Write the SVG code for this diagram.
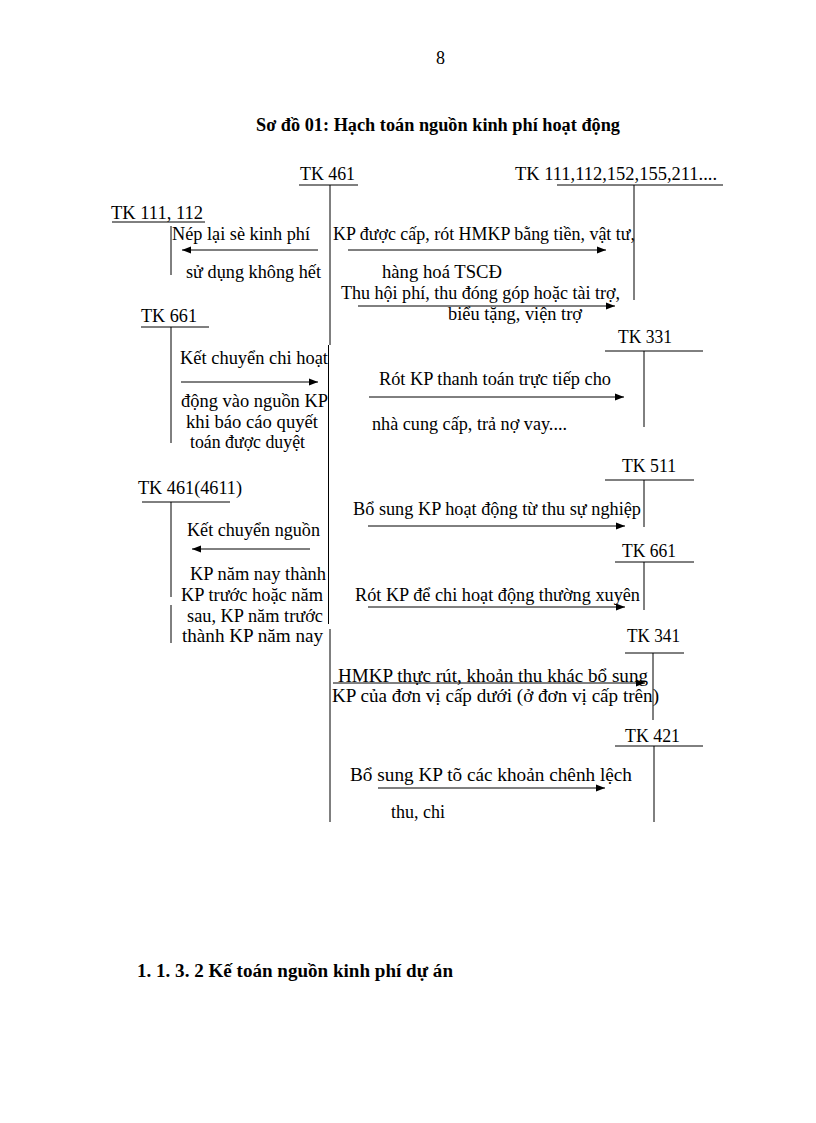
<svg xmlns="http://www.w3.org/2000/svg" width="816" height="1123" viewBox="0 0 816 1123">
<defs>
<marker id="ah" markerWidth="10" markerHeight="8" refX="9" refY="4" orient="auto" markerUnits="userSpaceOnUse">
<path d="M0,0.5 L9,4 L0,7.5 Z" fill="#000"/>
</marker>
<style>
text{font-family:"Liberation Serif","Times New Roman",serif;font-size:18px;fill:#000}
.b{font-weight:bold}
.ln{stroke:#000;stroke-width:1;fill:none}
.ar{stroke:#000;stroke-width:1;fill:none;marker-end:url(#ah)}
</style>
</defs>
<rect width="816" height="1123" fill="#fff"/>
<text x="436" y="64">8</text>
<text class="b" x="256" y="131" textLength="364" lengthAdjust="spacingAndGlyphs">Sơ đồ 01: Hạch toán nguồn kinh phí hoạt động</text>

<g id="tk461">
<text x="300" y="180" textLength="55" lengthAdjust="spacingAndGlyphs">TK 461</text>
<line class="ln" x1="299" y1="185" x2="358" y2="185"/>
<line class="ln" x1="330" y1="185" x2="330" y2="345"/>
<line class="ln" x1="328.5" y1="345" x2="328.5" y2="624"/>
<line class="ln" x1="330" y1="629" x2="330" y2="822"/>
</g>

<g id="tk111_211">
<text x="515" y="180" textLength="202" lengthAdjust="spacingAndGlyphs">TK 111,112,152,155,211....</text>
<line class="ln" x1="557" y1="185" x2="723" y2="185"/>
<line class="ln" x1="634" y1="185" x2="634" y2="300"/>
</g>

<g id="tk111_112">
<text x="111" y="219" textLength="92" lengthAdjust="spacingAndGlyphs">TK 111, 112</text>
<line class="ln" x1="112" y1="222" x2="205" y2="222"/>
<line class="ln" x1="171" y1="226" x2="171" y2="275"/>
</g>

<g id="tk661_left">
<text x="141" y="322" textLength="56" lengthAdjust="spacingAndGlyphs">TK 661</text>
<line class="ln" x1="141" y1="327" x2="209" y2="327"/>
<line class="ln" x1="171" y1="327" x2="171" y2="443"/>
</g>

<g id="tk331">
<text x="618" y="343" textLength="54" lengthAdjust="spacingAndGlyphs">TK 331</text>
<line class="ln" x1="605" y1="351" x2="703" y2="351"/>
<line class="ln" x1="644" y1="351" x2="644" y2="427"/>
</g>

<g id="tk511">
<text x="622" y="472" textLength="54" lengthAdjust="spacingAndGlyphs">TK 511</text>
<line class="ln" x1="605" y1="480" x2="694" y2="480"/>
<line class="ln" x1="644" y1="480" x2="644" y2="527"/>
</g>

<g id="tk4611">
<text x="138" y="494" textLength="104" lengthAdjust="spacingAndGlyphs">TK 461(4611)</text>
<line class="ln" x1="142" y1="502" x2="230" y2="502"/>
<line class="ln" x1="171" y1="502" x2="171" y2="597"/>
<line class="ln" x1="171" y1="605" x2="171" y2="643"/>
</g>

<g id="tk661_right">
<text x="622" y="557" textLength="54" lengthAdjust="spacingAndGlyphs">TK 661</text>
<line class="ln" x1="615" y1="562" x2="694" y2="562"/>
<line class="ln" x1="644" y1="562" x2="644" y2="610"/>
</g>

<g id="tk341">
<text x="627" y="642" textLength="53" lengthAdjust="spacingAndGlyphs">TK 341</text>
<line class="ln" x1="625" y1="653" x2="684" y2="653"/>
<line class="ln" x1="653" y1="653" x2="653" y2="720"/>
</g>

<g id="tk421">
<text x="625" y="742" textLength="55" lengthAdjust="spacingAndGlyphs">TK 421</text>
<line class="ln" x1="615" y1="746" x2="703" y2="746"/>
<line class="ln" x1="654" y1="746" x2="654" y2="822"/>
</g>

<g id="labels">
<text x="172" y="240" textLength="138" lengthAdjust="spacingAndGlyphs">Nép lại sè kinh phí</text>
<text x="186" y="278" textLength="135" lengthAdjust="spacingAndGlyphs">sử dụng không hết</text>
<text x="333" y="240" textLength="302" lengthAdjust="spacingAndGlyphs">KP được cấp, rót HMKP bằng tiền, vật tư,</text>
<text x="382" y="278" textLength="120" lengthAdjust="spacingAndGlyphs">hàng hoá TSCĐ</text>
<text x="341" y="299" textLength="279" lengthAdjust="spacingAndGlyphs">Thu hội phí, thu đóng góp hoặc tài trợ,</text>
<text x="448" y="320" textLength="134" lengthAdjust="spacingAndGlyphs">biểu tặng, viện trợ</text>
<text x="180" y="364" textLength="148" lengthAdjust="spacingAndGlyphs">Kết chuyển chi hoạt</text>
<text x="181" y="407" textLength="147" lengthAdjust="spacingAndGlyphs">động vào nguồn KP</text>
<text x="186" y="428" textLength="132" lengthAdjust="spacingAndGlyphs">khi báo cáo quyết</text>
<text x="190" y="448" textLength="115" lengthAdjust="spacingAndGlyphs">toán được duyệt</text>
<text x="379" y="385" textLength="232" lengthAdjust="spacingAndGlyphs">Rót KP thanh toán trực tiếp cho</text>
<text x="372" y="430" textLength="195" lengthAdjust="spacingAndGlyphs">nhà cung cấp, trả nợ vay....</text>
<text x="353" y="515" textLength="288" lengthAdjust="spacingAndGlyphs">Bổ sung KP hoạt động từ thu sự nghiệp</text>
<text x="187" y="536" textLength="133" lengthAdjust="spacingAndGlyphs">Kết chuyển nguồn</text>
<text x="190" y="580" textLength="136" lengthAdjust="spacingAndGlyphs">KP năm nay thành</text>
<text x="181" y="601" textLength="142" lengthAdjust="spacingAndGlyphs">KP trước hoặc năm</text>
<text x="355" y="601" textLength="285" lengthAdjust="spacingAndGlyphs">Rót KP để chi hoạt động thường xuyên</text>
<text x="187" y="622" textLength="136" lengthAdjust="spacingAndGlyphs">sau, KP năm trước</text>
<text x="182" y="642" textLength="141" lengthAdjust="spacingAndGlyphs">thành KP năm nay</text>
<text x="338" y="682" textLength="310" lengthAdjust="spacingAndGlyphs">HMKP thực rút, khoản thu khác bổ sung</text>
<text x="332" y="702" textLength="327" lengthAdjust="spacingAndGlyphs">KP của đơn vị  cấp dưới (ở đơn vị  cấp trên)</text>
<text x="350" y="781" textLength="282" lengthAdjust="spacingAndGlyphs">Bổ sung KP tõ các khoản  chênh lệch</text>
<text x="391" y="818">thu, chi</text>
</g>

<g id="connectors">
<line class="ar" x1="318" y1="250" x2="182" y2="250"/>
<line class="ar" x1="348" y1="250" x2="606" y2="250"/>
<line class="ar" x1="358" y1="306" x2="615" y2="306"/>
<line class="ar" x1="181" y1="382" x2="318" y2="382"/>
<line class="ar" x1="369" y1="397" x2="624" y2="397"/>
<line class="ar" x1="368" y1="526" x2="625" y2="526"/>
<line class="ar" x1="310" y1="549" x2="192" y2="549"/>
<line class="ar" x1="368" y1="607" x2="625" y2="607"/>
<line class="ar" x1="333" y1="683" x2="645" y2="683"/>
<line class="ar" x1="378" y1="788" x2="605" y2="788"/>
</g>

<text class="b" x="137" y="977" textLength="316" lengthAdjust="spacingAndGlyphs">1. 1. 3. 2 Kế toán nguồn kinh phí dự án</text>
</svg>
